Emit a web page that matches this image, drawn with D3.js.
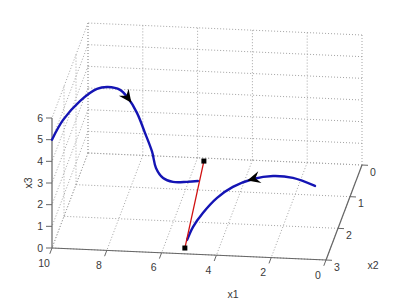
<!DOCTYPE html>
<html>
<head>
<meta charset="utf-8">
<script src="https://cdnjs.cloudflare.com/ajax/libs/d3/7.8.5/d3.min.js"></script>
<style>
body { margin: 0; background: #fff; }
svg { display: block; }
</style>
</head>
<body>
<div id="svg-container"></div>
<script>

//Tick values of the three axes
var x1Ticks = [0, 2, 4, 6, 8, 10];
var x2Ticks = [0, 1, 2, 3];
var x3Ticks = [0, 1, 2, 3, 4, 5, 6];

//First trajectory (starts at x1=10, x2=3, x3=5)
var traj1X1 = [10, 9.77, 9.33, 8.84, 8.53, 8.15, 7.91, 7.60, 7.33, 7.09, 6.95, 6.69, 6.33, 5.82, 5.42];
var traj1X2 = [3.0, 2.6, 2.2, 1.9, 1.7, 1.55, 1.45, 1.4, 1.35, 1.3, 1.3, 1.3, 1.3, 1.3, 1.3];
var traj1X3 = [5.0, 5.34, 5.65, 5.80, 5.61, 5.28, 4.78, 4.03, 3.05, 2.11, 1.38, 0.93, 0.77, 0.80, 0.86];

//Second trajectory (travels from right to left)
var traj2X1 = [1.19, 1.93, 2.59, 3.23, 3.88, 4.37, 4.80, 5.07, 5.20];
var traj2X2 = [1.2, 1.35, 1.5, 1.7, 1.9, 2.1, 2.3, 2.5, 2.7];
var traj2X3 = [0.72, 1.27, 1.54, 1.66, 1.55, 1.31, 0.88, 0.52, 0.20];

//Red segment with square end points
var segX1 = [5.23, 5.42];
var segX2 = [2.82, 0.8];
var segX3 = [0, 1.05];

var width = 400;
var height = 301;

//Scales: data value -> fraction of the box edge
var s1 = d3.scaleLinear().domain([0, 10]).range([0, 1]);
var s2 = d3.scaleLinear().domain([0, 3]).range([0, 1]);
var s3 = d3.scaleLinear().domain([0, 6]).range([0, 1]);

//Screen position of (0,0,0) and screen vectors of the full box edges
var origin = [362, 165];
var e1 = [-274, -12];
var e2 = [-36, 95];
var e3 = [0, -130];

function proj(a, b, c) {
    var f1 = s1(a), f2 = s2(b), f3 = s3(c);
    return [origin[0] + f1 * e1[0] + f2 * e2[0] + f3 * e3[0],
            origin[1] + f1 * e1[1] + f2 * e2[1] + f3 * e3[1]];
}

function pts(xa, xb, xc) {
    var out = [];
    for (var i = 0; i < xa.length; i++) {
        out.push(proj(xa[i], xb[i], xc[i]));
    }
    return out;
}

var svg = d3.select("#svg-container").append("svg")
    .attr("width", width)
    .attr("height", height);

var gridColor = "#a4a4a4";
var axisColor = "#666";
var textColor = "#3a3a3a";

//Grid lines: [from, to] in data coordinates
var grid = [];
//back wall (x2 = 0)
x1Ticks.forEach(function(v) { grid.push([[v, 0, 0], [v, 0, 6]]); });
x3Ticks.forEach(function(v) { grid.push([[0, 0, v], [10, 0, v]]); });
//left wall (x1 = 10)
x2Ticks.forEach(function(v) { if (v < 3) grid.push([[10, v, 0], [10, v, 6]]); });
x3Ticks.forEach(function(v) { grid.push([[10, 0, v], [10, 3, v]]); });
//floor (x3 = 0)
x1Ticks.forEach(function(v) { grid.push([[v, 0, 0], [v, 3, 0]]); });
x2Ticks.forEach(function(v) { grid.push([[0, v, 0], [10, v, 0]]); });

svg.selectAll("line.grid")
    .data(grid)
    .enter()
    .append("line")
    .attr("class", "grid")
    .attr("x1", function(d) { return proj(d[0][0], d[0][1], d[0][2])[0]; })
    .attr("y1", function(d) { return proj(d[0][0], d[0][1], d[0][2])[1]; })
    .attr("x2", function(d) { return proj(d[1][0], d[1][1], d[1][2])[0]; })
    .attr("y2", function(d) { return proj(d[1][0], d[1][1], d[1][2])[1]; })
    .attr("stroke", gridColor)
    .attr("stroke-width", 1)
    .attr("stroke-dasharray", "1,2");

//Axis lines
var axes = [
    [[10, 3, 0], [0, 3, 0]],   // x1
    [[0, 0, 0], [0, 3, 0]],    // x2
    [[10, 3, 0], [10, 3, 6]]   // x3
];
svg.selectAll("line.axis")
    .data(axes)
    .enter()
    .append("line")
    .attr("class", "axis")
    .attr("x1", function(d) { return proj(d[0][0], d[0][1], d[0][2])[0]; })
    .attr("y1", function(d) { return proj(d[0][0], d[0][1], d[0][2])[1]; })
    .attr("x2", function(d) { return proj(d[1][0], d[1][1], d[1][2])[0]; })
    .attr("y2", function(d) { return proj(d[1][0], d[1][1], d[1][2])[1]; })
    .attr("stroke", axisColor)
    .attr("stroke-width", 1.2);

//x1 ticks and labels
x1Ticks.forEach(function(v) {
    var p = proj(v, 3, 0);
    svg.append("line")
        .attr("x1", p[0]).attr("y1", p[1])
        .attr("x2", p[0] - 2.2).attr("y2", p[1] + 5.8)
        .attr("stroke", axisColor);
    svg.append("text")
        .attr("x", p[0] - 8)
        .attr("y", p[1] + 15)
        .attr("dy", "0.35em")
        .attr("text-anchor", "middle")
        .text(v);
});

//x2 ticks and labels
x2Ticks.forEach(function(v) {
    var p = proj(0, v, 0);
    svg.append("line")
        .attr("x1", p[0]).attr("y1", p[1])
        .attr("x2", p[0] + 6).attr("y2", p[1] + 0.3)
        .attr("stroke", axisColor);
    svg.append("text")
        .attr("x", p[0] + 11)
        .attr("y", p[1] + 7)
        .attr("dy", "0.35em")
        .attr("text-anchor", "middle")
        .text(v);
});

//x3 ticks and labels
x3Ticks.forEach(function(v) {
    var p = proj(10, 3, v);
    svg.append("line")
        .attr("x1", p[0]).attr("y1", p[1])
        .attr("x2", p[0] - 6).attr("y2", p[1])
        .attr("stroke", axisColor);
    svg.append("text")
        .attr("x", p[0] - 9)
        .attr("y", p[1])
        .attr("dy", "0.35em")
        .attr("text-anchor", "end")
        .text(v);
});

//Axis titles
svg.append("text").attr("x", 233).attr("y", 294).attr("dy", "0.35em")
    .attr("text-anchor", "middle").text("x1");
svg.append("text").attr("x", 373).attr("y", 265).attr("dy", "0.35em")
    .attr("text-anchor", "middle").text("x2");
svg.append("text").attr("transform", "translate(28,183) rotate(-90)").attr("dy", "0.35em")
    .attr("text-anchor", "middle").text("x3");

svg.selectAll("text")
    .attr("font-family", "Liberation Sans, Arial, sans-serif")
    .attr("font-size", "10.5px")
    .attr("fill", textColor);

//Trajectories
var line = d3.line().curve(d3.curveCatmullRom.alpha(0.5));
var blue = "#1414b4";

var p1 = pts(traj1X1, traj1X2, traj1X3);
var p2 = pts(traj2X1, traj2X2, traj2X3);

svg.selectAll("path.traj")
    .data([p1, p2])
    .enter()
    .append("path")
    .attr("class", "traj")
    .attr("d", line)
    .attr("fill", "none")
    .attr("stroke", blue)
    .attr("stroke-width", 2.4)
    .attr("stroke-linecap", "round");

//Arrow heads on the trajectories
function arrow(p, i) {
    var a = p[i - 1], b = p[i + 1], c = p[i];
    var dx = b[0] - a[0], dy = b[1] - a[1];
    var len = Math.sqrt(dx * dx + dy * dy);
    dx /= len; dy /= len;
    var nx = -dy, ny = dx;
    var tip = [c[0] + 6 * dx, c[1] + 6 * dy];
    var w1 = [c[0] - 7 * dx + 6 * nx, c[1] - 7 * dy + 6 * ny];
    var notch = [c[0] - 2.5 * dx, c[1] - 2.5 * dy];
    var w2 = [c[0] - 7 * dx - 6 * nx, c[1] - 7 * dy - 6 * ny];
    return "M" + [tip, w1, notch, w2].join("L") + "Z";
}

svg.selectAll("path.arrow")
    .data([[p1, 6], [p2, 3]])
    .enter()
    .append("path")
    .attr("class", "arrow")
    .attr("d", function(d) { return arrow(d[0], d[1]); })
    .attr("fill", "#000");

//Red segment with black squares
var seg = pts(segX1, segX2, segX3);
svg.append("path")
    .attr("d", d3.line()(seg))
    .attr("stroke", "#d01010")
    .attr("stroke-width", 1.3)
    .attr("fill", "none");

svg.selectAll("rect.end")
    .data(seg)
    .enter()
    .append("rect")
    .attr("class", "end")
    .attr("x", function(d) { return d[0] - 2.5; })
    .attr("y", function(d) { return d[1] - 2.5; })
    .attr("width", 5)
    .attr("height", 5)
    .attr("fill", "#000");

</script>
</body>
</html>
